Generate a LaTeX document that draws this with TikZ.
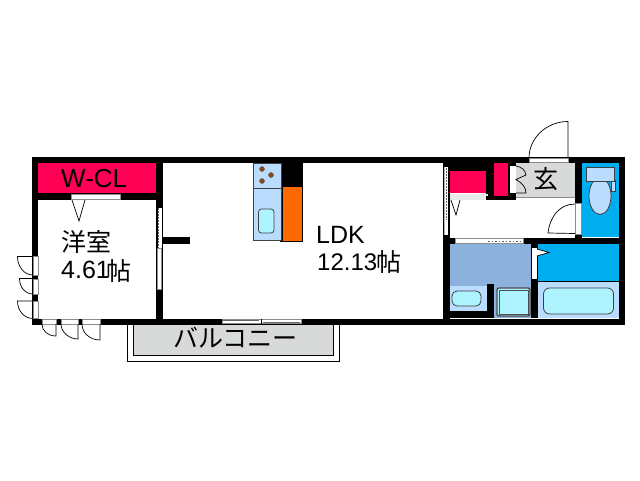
\documentclass[tikz,border=0pt]{standalone}
\usepackage{fontspec}
\setmainfont{Liberation Sans}
\newfontfamily\jp{Noto Sans CJK JP}
\definecolor{wcl}{HTML}{FF0055}
\definecolor{pale}{HTML}{B9DCFF}
\definecolor{aqua}{HTML}{AEF4FF}
\definecolor{sky}{HTML}{00AEEF}
\definecolor{wash}{HTML}{8DB1DD}
\definecolor{grayfl}{HTML}{D8DADA}
\definecolor{orng}{HTML}{FF6A00}
\definecolor{brn}{HTML}{8A4B12}
\tikzset{
  wallfill/.style={fill=black,draw=none},
  opening/.style={fill=white,draw=black!45,line width=0.5pt},
  leaf/.style={draw=black,line width=0.7pt,fill=none},
  fixture/.style={draw=black!75,line width=0.8pt},
  lbl/.style={inner sep=0pt,anchor=base west,text=black},
}
\begin{document}
\begin{tikzpicture}[x=1pt,y=-1pt]
\useasboundingbox (0,0) rectangle (640,480);
\fill[white] (0,0) rectangle (640,480);
% floors
\fill[wcl] (38,163) rectangle (156,193);
\fill[wcl] (450,171) rectangle (486,193);
\fill[wcl] (494,163) rectangle (508,196);
\fill[grayfl] (516,163) rectangle (575,197);
\fill[sky] (582,163) rectangle (619,237);
\fill[wash] (450,244) rectangle (531,318);
\fill[sky] (538,244) rectangle (619,281);
\fill[pale] (538,281) rectangle (619,318);
\fill[pale] (450,286) rectangle (487,311);
% balcony
\draw[black,line width=0.7pt] (127.5,325) -- (127.5,361) -- (339,361) -- (339,325);
\draw[black,line width=0.7pt,fill=grayfl] (133.5,325) -- (133.5,355) -- (333,355) -- (333,325);
% walls
\fill[wallfill] (32,157) rectangle (625,163);
\fill[wallfill] (32,318.5) rectangle (625,325);
\fill[wallfill] (32,157) rectangle (38,325);
\fill[wallfill] (156,157) rectangle (163,325);
\fill[wallfill] (38,193) rectangle (156,200);
\fill[wallfill] (163,237) rectangle (190,244);
\fill[wallfill] (443,157) rectangle (450,325);
\fill[wallfill] (619,157) rectangle (625,325);
\fill[wallfill] (575,157) rectangle (582,244);
\fill[wallfill] (443,237.5) rectangle (625,244);
\fill[wallfill] (449,163) rectangle (494,171);
\fill[wallfill] (486,163) rectangle (494,200);
\fill[wallfill] (486,196) rectangle (516,200);
\fill[wallfill] (508,163) rectangle (516,200);
\fill[wallfill] (531,244) rectangle (538,318);
\fill[wallfill] (487,284) rectangle (494,318);
\fill[wallfill] (450,311) rectangle (494,318);
\fill[wallfill] (282,163) rectangle (303,186);
% wcl opening + door
\draw[opening] (71,194) rectangle (120,199);
\draw[leaf,fill=white] (72,200) -- (79,221) -- (85,200);
% Western room right window
\fill[white] (157.5,208) rectangle (161.5,289);
\draw[black!45,line width=0.4pt] (157.5,248) rectangle (161.5,289);
\draw[black!60,line width=1pt,dash pattern=on 1.5pt off 1.5pt] (158.5,208) -- (158.5,248);
% left windows and doors
\fill[white] (33,256.5) rectangle (38,275);
\fill[white] (33,279) rectangle (38,294);
\fill[white] (33,301) rectangle (38,318.5);
\draw[black!45,line width=0.5pt] (33,256.5) rectangle (38,275) (33,279) rectangle (38,294) (33,301) rectangle (38,318.5);
\draw[leaf] (33,256.5) -- (17.5,256.5) .. controls (17.5,266.5) and (24,275) .. (33,275);
\draw[leaf] (33,278.5) -- (19.5,278.5) .. controls (19.5,287) and (25,294) .. (33,294);
\draw[leaf] (33,301) -- (17.5,301) .. controls (17.5,310.5) and (24,318.5) .. (33,318.5);
% bottom windows and doors
\fill[white] (42,319) rectangle (56,324);
\fill[white] (61,319) rectangle (78,324);
\fill[white] (82,319) rectangle (100,324);
\draw[black!45,line width=0.5pt] (42,319) rectangle (56,324) (61,319) rectangle (78,324) (82,319) rectangle (100,324);
\draw[leaf] (56,324) -- (56,336) .. controls (48,336) and (42,331) .. (42,324);
\draw[leaf] (78,324) -- (78,339) .. controls (69,339) and (61,332) .. (61,324);
\draw[leaf] (100,324) -- (100,340) .. controls (90,340) and (82,333) .. (82,324);
% balcony door
\draw[opening] (222,319.5) rectangle (301,323.5);
\draw[black,line width=0.6pt] (261,319) -- (261,324);
\draw[black!60,line width=0.6pt] (222,320.5) -- (259,320.5) (263,322.5) -- (300,322.5);
% kitchen
\draw[fixture,fill=pale] (253.5,163) rectangle (281,240.5);
\draw[fixture] (253.5,188) -- (281,188);
\foreach \c in {(262,169),(271,175),(262,181)} \fill[brn,draw=black!70,line width=0.3pt] \c circle[radius=2.5];
\draw[fixture,fill=aqua,rounded corners=3pt] (258.5,209) rectangle (274,233);
\draw[black,line width=0.7pt,fill=orng] (282,186) rectangle (302,241);
\draw[black,line width=0.7pt] (280,241) -- (282,241);
% west window of right part
\fill[white] (444,167) rectangle (447.5,235);
\draw[black!60,line width=1pt,dash pattern=on 1.5pt off 1.5pt] (446.5,168) -- (446.5,220);
\fill[black!30] (444,167) rectangle (444.8,235);
% closet folding door
\fill[white] (509.5,166) rectangle (515.5,193);
\draw[leaf] (516,166) .. controls (522,167) and (525,170) .. (526,175) -- (516,179.5) .. controls (522,183) and (526,187) .. (526,193) -- (516,193);
% entry door
\fill[white] (529,158) rectangle (568,162.5);
\draw[black!45,line width=0.5pt] (529,158) rectangle (568,162.5);
\draw[leaf] (568,158) -- (568,121.5) .. controls (546.5,121.5) and (529,138) .. (529,158);
% corridor
\fill[white] (450,200) rectangle (575,237);
\fill[grayfl!60!white] (450,194) rectangle (488,199.5);
\fill[white] (575.5,203.5) rectangle (581,234);
\draw[black!45,line width=0.5pt] (575.5,203.5) rectangle (581,234);
\draw[black!45,line width=0.5pt] (516,197.5) -- (575,197.5);
\fill[wallfill] (486,196) rectangle (516,200);
\draw[leaf,fill=white] (451,200) -- (456,215) -- (460,200);
\draw[leaf] (575,204) .. controls (560,204) and (550,216) .. (548,233) -- (575,233.5);
% hall window
\draw[opening] (455,238.5) rectangle (523,243);
\draw[black!60,line width=1pt,dash pattern=on 1.5pt off 2pt] (488,241.5) -- (523,241.5);
% toilet
\draw[fixture,fill=pale] (611,180) rectangle (615.5,191);
\draw[fixture,fill=pale] (600,196) ellipse[x radius=11,y radius=18.5];
\draw[fixture,fill=pale] (586.5,167) rectangle (614,181);
% washroom
\draw[fixture,fill=aqua,rounded corners=5pt] (452,291) rectangle (481,306);
\draw[black!70,line width=1.4pt,fill=aqua,rounded corners=2pt] (497,288) rectangle (530,316);
\draw[black!70,line width=0.8pt] (499.5,290.5) rectangle (528,314);
% bathroom
\fill[white] (532,248) rectangle (537,279);
\draw[leaf,fill=white] (537,249) -- (549,252.5) -- (537,256);
\draw[black,line width=0.7pt] (538,281) -- (619,281);
\draw[fixture,fill=aqua,rounded corners=6pt] (543.5,288) rectangle (613.5,314);
% labels
\node[lbl,font=\fontsize{26}{26}\selectfont] (wc) at (61,187) {W-CL};
\node[lbl,font=\jp\fontsize{25}{25}\selectfont] (yo) at (61.5,251.5) {洋室};
\node[lbl,font=\fontsize{25}{25}\selectfont] (ys) at (61,278.5) {4.61};
\node[lbl,font=\jp\fontsize{25}{25}\selectfont] (yh) at (106,280.5) {帖};
\node[lbl,font=\fontsize{25}{25}\selectfont] (ld) at (316,243.5) {LDK};
\node[lbl,font=\fontsize{24}{24}\selectfont] (ls) at (317,270) {12.13};
\node[lbl,font=\jp\fontsize{25}{25}\selectfont] (lh) at (376,271) {帖};
\node[lbl,font=\jp\fontsize{25}{25}\selectfont] (ba) at (173,347.5) {バルコニー};
\node[lbl,font=\jp\fontsize{25}{25}\selectfont] (ge) at (533,188) {玄};
\end{tikzpicture}
\end{document}
